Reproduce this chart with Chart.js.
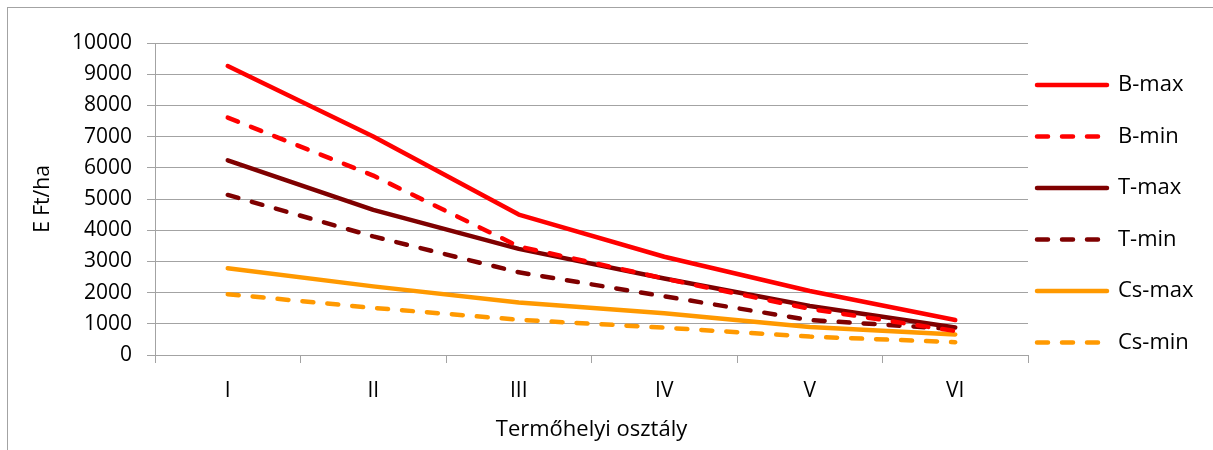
<!DOCTYPE html>
<html>
<head>
<meta charset="utf-8">
<script src="https://cdn.jsdelivr.net/npm/chart.js@4.4.1/dist/chart.umd.min.js"></script>
<style>
  html, body { margin: 0; padding: 0; background: #fff; }
  #frame { position: absolute; left: 7px; top: 7px; width: 1300px; height: 500px; border: 1px solid #a3a3a3; }
  #myChart { position: absolute; left: 0; top: 0; }
</style>
</head>
<body>
<div id="frame"></div>
<canvas id="myChart" width="1213" height="450"></canvas>
<script>
const categories = ['I', 'II', 'III', 'IV', 'V', 'VI'];
const bMax  = [9260, 7000, 4500, 3150, 2050, 1120];
const bMin  = [7610, 5750, 3480, 2450, 1480, 770];
const tMax  = [6240, 4650, 3400, 2450, 1570, 880];
const tMin  = [5130, 3800, 2650, 1880, 1120, 830];
const csMax = [2780, 2200, 1680, 1340, 900, 660];
const csMin = [1950, 1510, 1130, 875, 590, 410];
const yMin = 0, yMax = 10000, yStep = 1000;

const red = '#ff0000', darkRed = '#7f0000', orange = '#ff9900';
const grey = '#a3a3a3';
const font = 'Open Sans';

function line(label, data, color, dashed) {
  return {
    label: label,
    data: data,
    borderColor: color,
    backgroundColor: color,
    borderWidth: 4.5,
    borderDash: dashed ? [11, 14] : [],
    borderCapStyle: 'round',
    borderJoinStyle: 'round',
    pointRadius: 0,
    tension: 0,
    fill: false
  };
}

// nudge the legend so its column sits right next to the plot (and don't clip the text)
const legendNudge = {
  id: 'legendNudge',
  afterLayout(chart) {
    const lg = chart.legend;
    lg.left -= 20.5;
    lg.right = chart.width;
    lg.top += 1.5;
  }
};

let ctx = document.getElementById('myChart');

new Chart(ctx, {
  type: 'line',
  data: {
    labels: categories,
    datasets: [
      line('B-max', bMax, red, false),
      line('B-min', bMin, red, true),
      line('T-max', tMax, darkRed, false),
      line('T-min', tMin, darkRed, true),
      line('Cs-max', csMax, orange, false),
      line('Cs-min', csMin, orange, true)
    ]
  },
  plugins: [legendNudge],
  options: {
    responsive: false,
    animation: false,
    devicePixelRatio: 1,
    layout: { padding: { top: 43, right: 25, bottom: 0, left: 0 } },
    plugins: {
      tooltip: { enabled: false },
      legend: {
        position: 'right',
        align: 'start',
        maxWidth: 160,
        labels: {
          usePointStyle: true,
          pointStyle: 'line',
          pointStyleWidth: 70,
          padding: 29.5,
          color: '#000',
          font: { family: font, size: 22 },
          generateLabels(chart) {
            const items = Chart.defaults.plugins.legend.labels.generateLabels(chart);
            items.forEach(it => {
              const ds = chart.data.datasets[it.datasetIndex];
              it.strokeStyle = ds.borderColor;
              it.lineWidth = ds.borderWidth;
              it.lineDash = ds.borderDash;
              it.lineCap = ds.borderCapStyle;
            });
            return items;
          }
        }
      }
    },
    scales: {
      x: {
        offset: true,
        afterFit(scale) { scale.height = 95; },
        grid: { drawOnChartArea: false, offset: true, tickLength: 8, color: grey, tickColor: grey },
        border: { color: grey, width: 1 },
        ticks: { color: '#000', padding: 15, font: { family: font, size: 21 } },
        title: { display: true, text: 'Termőhelyi osztály', color: '#000', padding: { top: 0, bottom: 7 }, font: { family: font, size: 22 } }
      },
      y: {
        min: yMin,
        max: yMax,
        afterFit(scale) { scale.width = 155; },
        grid: { color: grey, tickLength: 8, tickColor: grey },
        border: { color: grey, width: 1 },
        ticks: {
          stepSize: yStep,
          color: '#000',
          padding: 15,
          font: { family: font, size: 21 },
          callback: v => String(v)
        },
        title: { display: true, text: 'E Ft/ha', color: '#000', padding: { top: 30, bottom: 0 }, font: { family: font, size: 21 } }
      }
    }
  }
});
</script>
</body>
</html>
